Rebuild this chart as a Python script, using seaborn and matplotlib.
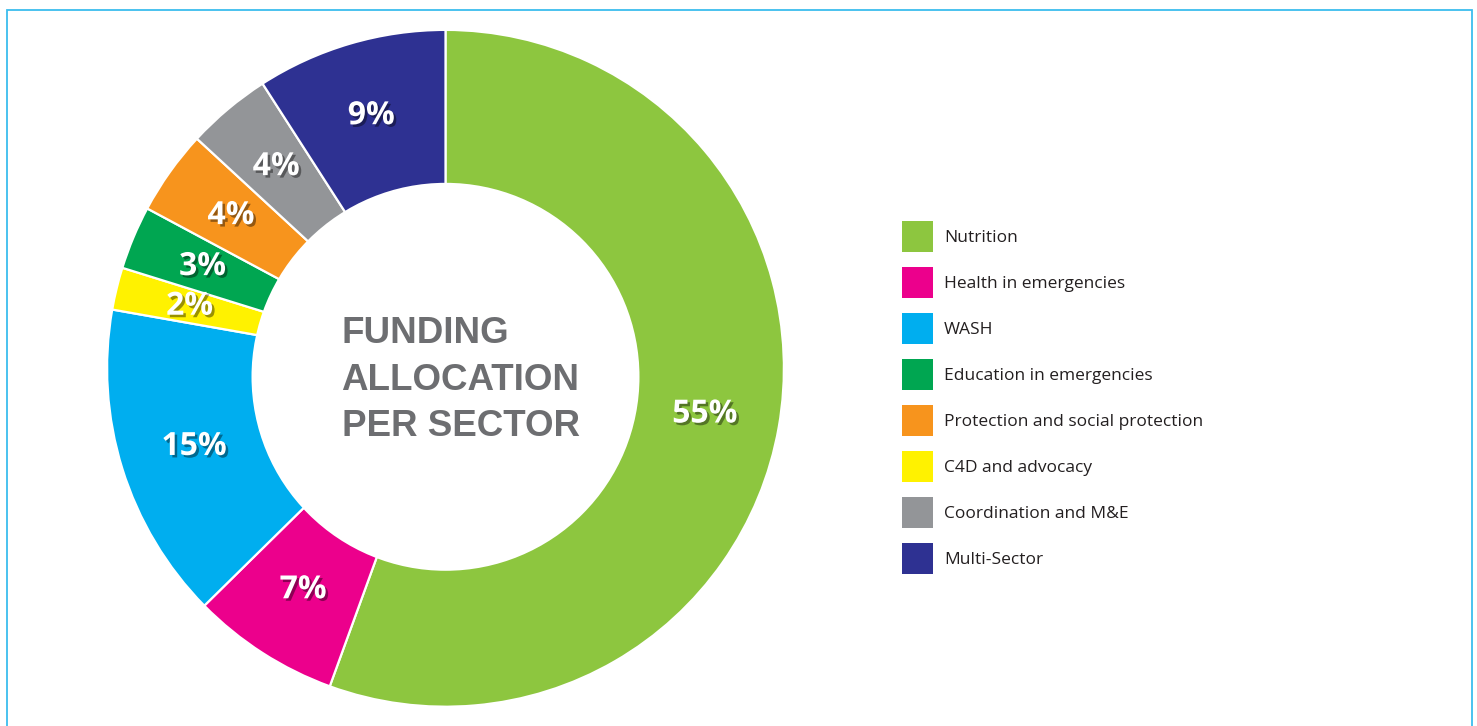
import matplotlib
matplotlib.use("Agg")
import matplotlib.pyplot as plt
import matplotlib.patheffects as pe
from matplotlib.patches import Patch, Rectangle, Circle
import numpy as np
import seaborn as sns

# legend order
sectors = ["Nutrition", "Health in emergencies", "WASH", "Education in emergencies",
           "Protection and social protection", "C4D and advocacy",
           "Coordination and M&E", "Multi-Sector"]
shares = [55, 7, 15, 3, 4, 2, 4, 9]
colors = ["#8dc63f", "#ec008c", "#00aeef", "#00a651",
          "#f7941d", "#fff200", "#939598", "#2e3192"]

# clockwise order of the wedges, starting at 12 o'clock
pie_order = ["Nutrition", "Health in emergencies", "WASH", "C4D and advocacy",
             "Education in emergencies", "Protection and social protection",
             "Coordination and M&E", "Multi-Sector"]

title_lines = ["FUNDING", "ALLOCATION", "PER SECTOR"]


def plot_donut():
    sns.set_theme(style="white")
    plt.rcParams["font.family"] = ["Open Sans", "DejaVu Sans"]

    W, H = 1477, 726
    fig = plt.figure(figsize=(W / 100, H / 100), dpi=100)
    fig.patch.set_facecolor("white")

    # donut geometry in pixels
    cx, cy, R = 445.5, 368.3, 338.4
    ax = fig.add_axes([(cx - R) / W, (H - cy - R) / H, 2 * R / W, 2 * R / H])

    idx = [sectors.index(s) for s in pie_order]
    vals = [shares[i] for i in idx]
    cols = [colors[i] for i in idx]

    wedges, _ = ax.pie(vals, colors=cols, startangle=90, counterclock=False,
                       radius=1, wedgeprops=dict(edgecolor="white", linewidth=1.6))
    ax.set_xlim(-1, 1)
    ax.set_ylim(-1, 1)
    ax.set_aspect("equal")
    ax.axis("off")

    # hole (sits slightly below the outer centre in the original)
    ax.add_patch(Circle((0, -8.5 / R), 194 / R, facecolor="white", edgecolor="none", zorder=3))

    shadow = [pe.SimplePatchShadow(offset=(1.8, -1.8), shadow_rgbFace="black", alpha=0.4),
              pe.Normal()]
    for w, v in zip(wedges, vals):
        ang = np.deg2rad((w.theta1 + w.theta2) / 2)
        r = 0.778
        ax.text(r * np.cos(ang), r * np.sin(ang), f"{v}%", ha="center", va="center",
                color="white", fontsize=23, fontweight="bold", zorder=5,
                path_effects=shadow)

    # centre title
    for k, line in enumerate(title_lines):
        fig.text(341.5 / W, 1 - (343 + 46.5 * k) / H, line, ha="left", va="baseline",
                 fontsize=26.5, fontweight="bold", color="#6d6e71",
                 family=["Liberation Sans", "DejaVu Sans"])

    handles = [Patch(facecolor=c, edgecolor="none", label=s) for s, c in zip(sectors, colors)]
    fig.legend(handles=handles, loc="upper left", bbox_to_anchor=(902 / W, 1 - 221 / H),
               frameon=False, fontsize=12.5, handlelength=1.786, handleheight=2.37,
               handletextpad=0.63, labelspacing=0.864, borderpad=0, borderaxespad=0,
               labelcolor="#231f20")

    # light blue frame
    fig.add_artist(Rectangle((7 / W, -0.05), (1472 - 7) / W, 1.05 - 9.5 / H,
                             transform=fig.transFigure, fill=False,
                             edgecolor="#3cbdee", linewidth=1.3))

    fig.savefig("out.png", dpi=100)


if __name__ == "__main__":
    plot_donut()
